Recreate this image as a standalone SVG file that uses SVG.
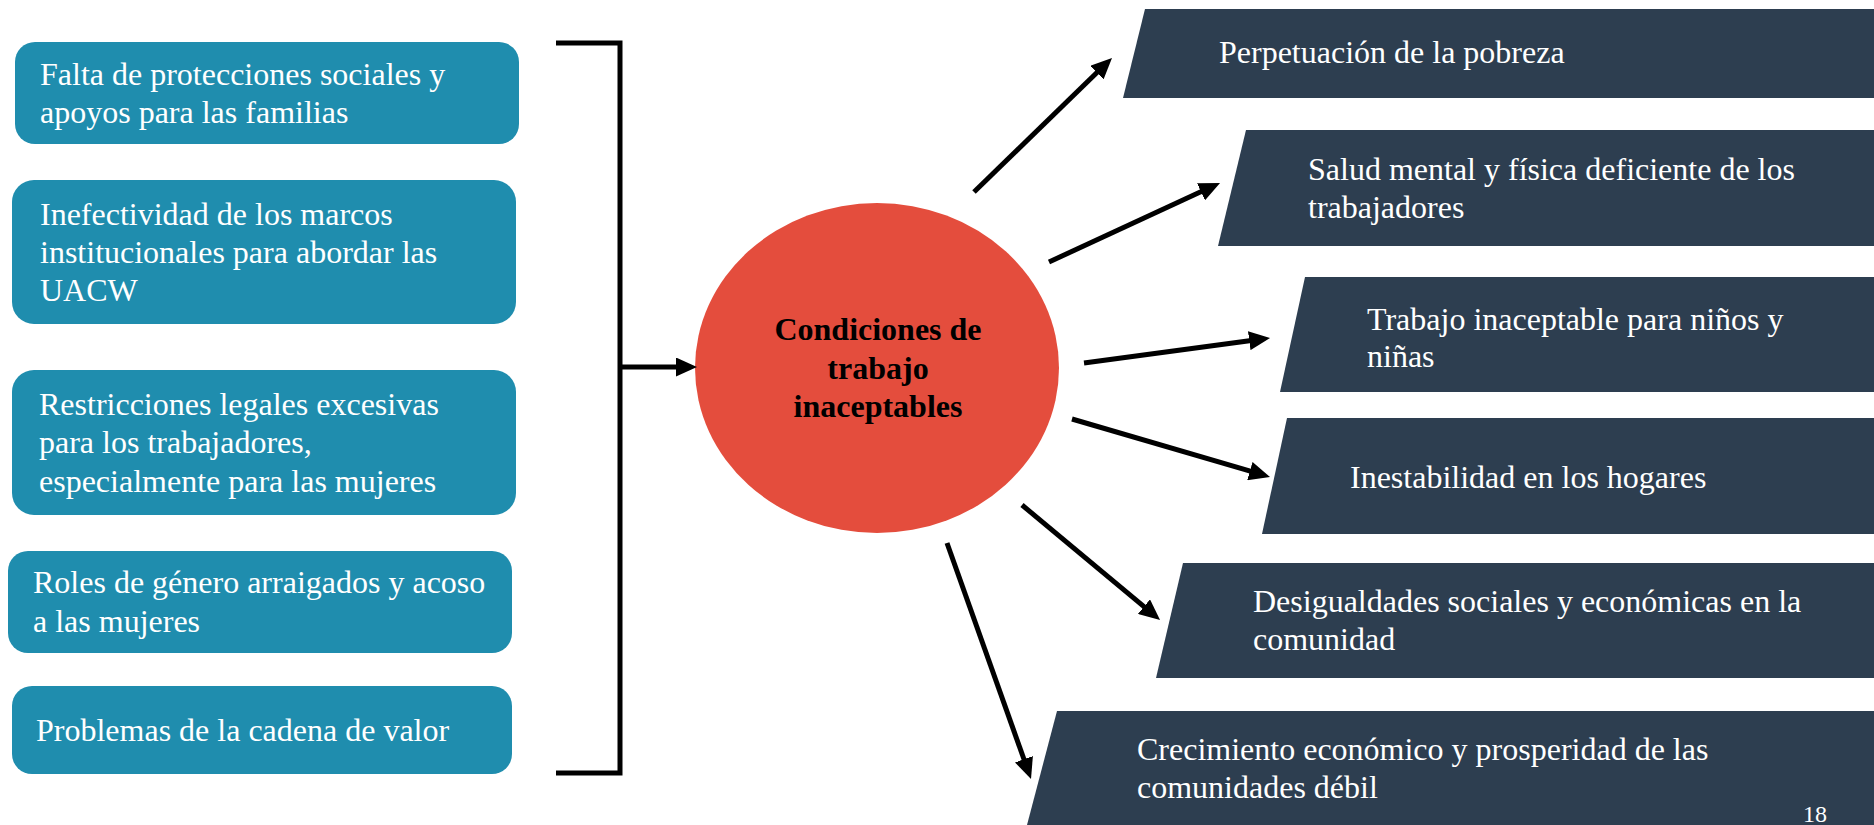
<svg xmlns="http://www.w3.org/2000/svg" width="1874" height="825" viewBox="0 0 1874 825">
<style>
.cause{fill:#1F8DAE}
.effect{fill:#2D3E50}
.t{font-family:"Liberation Serif","Times New Roman",serif;font-size:32px;fill:#FFFFFF}
.c{font-family:"Liberation Serif","Times New Roman",serif;font-size:32px;font-weight:bold;fill:#000000;text-anchor:middle}
.ln{stroke:#000;stroke-width:5;fill:none}
</style>
<defs>
<marker id="ah" markerUnits="userSpaceOnUse" markerWidth="21" markerHeight="19" refX="4" refY="9.5" orient="auto">
<path d="M0,0 L21,9.5 L0,19 z" fill="#000"/>
</marker>
</defs>
<rect width="1874" height="825" fill="#FFFFFF"/>

<g id="cause1"><rect class="cause" x="15" y="42" width="504" height="102" rx="20"/>
<text class="t" x="40" y="85">Falta de protecciones sociales y</text>
<text class="t" x="40" y="123">apoyos para las familias</text></g>

<g id="cause2"><rect class="cause" x="12" y="180" width="504" height="144" rx="22"/>
<text class="t" x="40" y="225">Inefectividad de los marcos</text>
<text class="t" x="40" y="263">institucionales para abordar las</text>
<text class="t" x="40" y="301">UACW</text></g>

<g id="cause3"><rect class="cause" x="12" y="370" width="504" height="145" rx="22"/>
<text class="t" x="39" y="415">Restricciones legales excesivas</text>
<text class="t" x="39" y="453">para los trabajadores,</text>
<text class="t" x="39" y="492">especialmente para las mujeres</text></g>

<g id="cause4"><rect class="cause" x="8" y="551" width="504" height="102" rx="20"/>
<text class="t" x="33" y="593">Roles de género arraigados y acoso</text>
<text class="t" x="33" y="632">a las mujeres</text></g>

<g id="cause5"><rect class="cause" x="12" y="686" width="500" height="88" rx="20"/>
<text class="t" x="36" y="741">Problemas de la cadena de valor</text></g>

<g id="center"><ellipse cx="877" cy="368" rx="182" ry="165" fill="#E44D3D"/>
<text class="c" x="878" y="340">Condiciones de</text>
<text class="c" x="878" y="378.5">trabajo</text>
<text class="c" x="878" y="417">inaceptables</text></g>

<g id="effect1"><polygon class="effect" points="1145,9 1874,9 1874,98 1123,98"/>
<text class="t" x="1219" y="63">Perpetuación de la pobreza</text></g>

<g id="effect2"><polygon class="effect" points="1246,130 1874,130 1874,246 1218,246"/>
<text class="t" x="1308" y="180">Salud mental y física deficiente de los</text>
<text class="t" x="1308" y="218">trabajadores</text></g>

<g id="effect3"><polygon class="effect" points="1305,277 1874,277 1874,392 1280,392"/>
<text class="t" x="1367" y="330">Trabajo inaceptable para niños y</text>
<text class="t" x="1367" y="367">niñas</text></g>

<g id="effect4"><polygon class="effect" points="1287,418 1874,418 1874,534 1262,534"/>
<text class="t" x="1350" y="488">Inestabilidad en los hogares</text></g>

<g id="effect5"><polygon class="effect" points="1183,563 1874,563 1874,678 1156,678"/>
<text class="t" x="1253" y="612">Desigualdades sociales y económicas en la</text>
<text class="t" x="1253" y="650">comunidad</text></g>

<g id="effect6"><polygon class="effect" points="1057,711 1874,711 1874,825 1027,825"/>
<text class="t" x="1137" y="760">Crecimiento económico y prosperidad de las</text>
<text class="t" x="1137" y="798">comunidades débil</text></g>

<g id="connectors">
<polyline class="ln" points="556,43 620,43 620,773 556,773"/>
<line class="ln" x1="620" y1="367" x2="680" y2="367" marker-end="url(#ah)"/>
<line class="ln" x1="974" y1="192" x2="1099.8" y2="69.8" marker-end="url(#ah)"/>
<line class="ln" x1="1049" y1="262" x2="1204.6" y2="190.1" marker-end="url(#ah)"/>
<line class="ln" x1="1084" y1="363" x2="1253.2" y2="340.2" marker-end="url(#ah)"/>
<line class="ln" x1="1072" y1="419" x2="1253.7" y2="472.2" marker-end="url(#ah)"/>
<line class="ln" x1="1022" y1="505" x2="1147" y2="609.2" marker-end="url(#ah)"/>
<line class="ln" x1="947" y1="543" x2="1025.3" y2="763" marker-end="url(#ah)"/>
</g>

<text id="page" x="1803" y="822" style="font-family:'Liberation Serif','Times New Roman',serif;font-size:24px;fill:#FFFFFF">18</text>
</svg>
